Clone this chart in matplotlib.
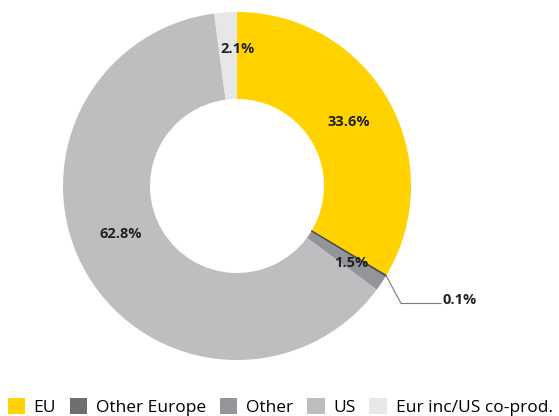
import numpy as np
import matplotlib.pyplot as plt

labels = ['EU', 'Other Europe', 'Other', 'US', 'Eur inc/US co-prod.']
shares = [33.6, 0.1, 1.5, 62.8, 2.1]
colors = ['#FFD200', '#6E6F71', '#939598', '#BCBEC0', '#E6E7E8']
# label placement: radius (fraction of outer radius) and angle shift in degrees
label_r = [0.74, None, 0.79, 0.72, 0.79]
label_shift = [0, 0, 0, -8, -4]

fig = plt.figure(figsize=(5.59, 4.16), dpi=100)
cx, cy, R = 237, 186, 174
ax = fig.add_axes([(cx - R) / 559, (416 - cy - R) / 416, 2 * R / 559, 2 * R / 416])

wedges, _ = ax.pie(shares, colors=colors, startangle=90, counterclock=False,
                   radius=1, wedgeprops=dict(width=0.5, linewidth=0))
ax.set_xlim(-1, 1)
ax.set_ylim(-1, 1)
ax.set_aspect('equal')
ax.axis('off')

# thin separator for the tiny slice
w = wedges[1]
for ang in (w.theta1, w.theta2):
    a = np.deg2rad(ang)
    ax.plot([0.5 * np.cos(a), np.cos(a)], [0.5 * np.sin(a), np.sin(a)],
            color='#333333', lw=0.5)

lab_font = dict(family=['Open Sans', 'DejaVu Sans'], size=10.5, weight='bold')

for w, s, r, d in zip(wedges, shares, label_r, label_shift):
    mid = np.deg2rad((w.theta1 + w.theta2) / 2 + d)
    if r is None:
        # leader line out to the right
        x0, y0 = np.cos(mid), np.sin(mid)
        xk, yk = x0 + 0.086, y0 - 0.16
        ax.plot([x0, xk, xk + 0.23], [y0, yk, yk], color='#7a7a7a', lw=0.8,
                clip_on=False)
        ax.text(xk + 0.24, yk, f'{s}%', ha='left', va='baseline',
                color='#222222', **lab_font)
        continue
    ax.text(r * np.cos(mid), r * np.sin(mid), f'{s}%', ha='center', va='center',
            color='#222222', **lab_font)

fig.legend(wedges, labels, loc='lower left', bbox_to_anchor=(-0.005, -0.025), ncol=5,
           frameon=False, handlelength=1.0, handleheight=1.0,
           handletextpad=0.5, columnspacing=0.8, borderaxespad=0.2,
           prop={'family': ['Open Sans', 'DejaVu Sans'], 'size': 12.5})

fig.savefig('out.png', dpi=100)
